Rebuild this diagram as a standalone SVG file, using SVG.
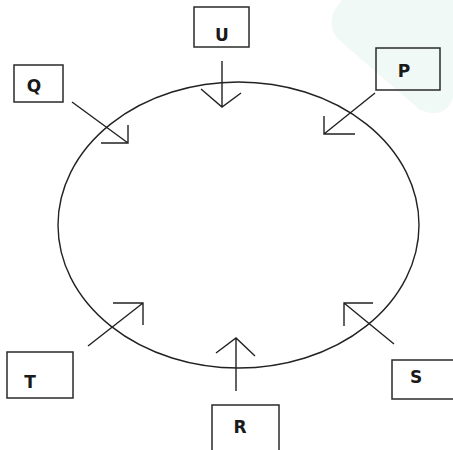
<svg xmlns="http://www.w3.org/2000/svg" width="453" height="450" viewBox="0 0 453 450">
<style>
.box{fill:none;stroke:#2a2a2a;stroke-width:1.5}
.lbl{font-family:"DejaVu Sans","Liberation Sans",sans-serif;font-weight:bold;font-size:17px;fill:#1a1a1a;text-anchor:middle}
.ln{fill:none;stroke:#222;stroke-width:1.4}
</style>
<rect width="453" height="450" fill="#fff"/>
<path d="M342 0 L453 0 L453 98 Q445 120 420 110 L337 38 Q324 20 342 0 Z" fill="#f0f9f5"/>
<ellipse cx="238.5" cy="225" rx="180.5" ry="143" class="ln"/>
<g id="connectors">
<path class="ln" d="M222 61 V107 M201 89 L222 107 L241 93"/>
<path class="ln" d="M72 102 L128 143 M101 143 H128 V125"/>
<path class="ln" d="M375 93 L324 134 M355 134 H324 V116"/>
<path class="ln" d="M88 346 L143 303 M113 303 H143 V325"/>
<path class="ln" d="M394 344 L344 303 M373 303 H344 V326"/>
<path class="ln" d="M236 391 V338 M216 353 L236 338 L255 356"/>
</g>
<g id="U"><rect class="box" x="194" y="7" width="55" height="40"/><text class="lbl" x="222" y="41">U</text></g>
<g id="Q"><rect class="box" x="14" y="65" width="49" height="37"/><text class="lbl" x="34" y="92">Q</text></g>
<g id="P"><rect class="box" x="376" y="48" width="64" height="42"/><text class="lbl" x="404" y="77">P</text></g>
<g id="T"><rect class="box" x="7" y="352" width="66" height="46"/><text class="lbl" x="30" y="388">T</text></g>
<g id="S"><rect class="box" x="392" y="360" width="62" height="39"/><text class="lbl" x="416" y="383">S</text></g>
<g id="R"><rect class="box" x="212" y="405" width="67" height="50"/><text class="lbl" x="240" y="433">R</text></g>
</svg>
